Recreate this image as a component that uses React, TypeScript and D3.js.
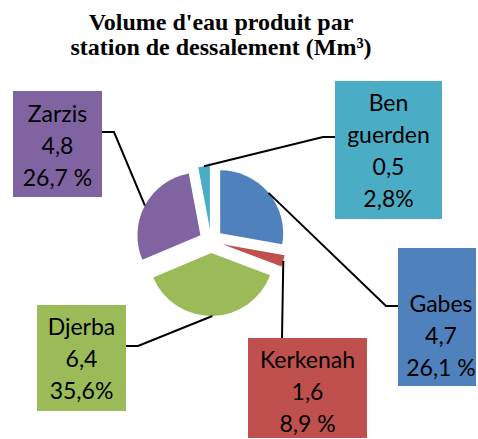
import React from "react";
import * as d3 from "d3";

const categories = ["Gabes", "Kerkenah", "Djerba", "Zarzis", "Ben guerden"];
const sliceValues = [4.7, 0.5, 6.4, 4.8, 0.5];
const labelNameLines = [["Gabes"], ["Kerkenah"], ["Djerba"], ["Zarzis"], ["Ben", "guerden"]];
const labelValues = ["4,7", "1,6", "6,4", "4,8", "0,5"];
const labelPercents = ["26,1 %", "8,9 %", "35,6%", "26,7 %", "2,8%"];
const colors = ["#4F81BD", "#C0504D", "#9BBB59", "#8064A2", "#4BACC6"];
const titleLines = ["Volume d'eau produit par", "station de dessalement (Mm³)"];

const W = 478;
const H = 439;
const cx = 211;
const cy = 241;
const R = 63;
const explode = 12;
const lineGap = 32;

const layout = [
  { box: [398, 248, 78, 138], base: 312, tx: 441, elbow: [386, 306], anchor: [398, 306] },
  { box: [248, 338, 119, 100], base: 368, tx: 307.5, elbow: [282, 338], anchor: [282, 338] },
  { box: [37, 305, 89, 106], base: 335, tx: 81.5, elbow: [138, 346], anchor: [126, 346] },
  { box: [13, 91, 89, 106], base: 122, tx: 57.5, elbow: [114, 132], anchor: [102, 132] },
  { box: [335, 81, 107, 138], base: 111, tx: 388.5, elbow: [323, 137], anchor: [335, 137] },
];

export default function App() {
  const pie = d3.pie<number>().sort(null).value((d) => d).startAngle(0).endAngle(2 * Math.PI);
  const arcs = pie(sliceValues);
  const arc = d3.arc<d3.PieArcDatum<number>>().innerRadius(0).outerRadius(R);

  return (
    <div style={{ position: "fixed", left: 0, top: 0 }}>
      <svg width={W} height={H} style={{ display: "block", background: "#fff" }}>
        {titleLines.map((t, i) => (
          <text
            key={i}
            x={221}
            y={30 + i * 25}
            textAnchor="middle"
            fontFamily="'Liberation Serif', 'Times New Roman', serif"
            fontWeight="bold"
            fontSize={24}
            fill="#000"
          >
            {t}
          </text>
        ))}
        {arcs.map((a, i) => {
          const mid = (a.startAngle + a.endAngle) / 2;
          const ox = cx + explode * Math.sin(mid);
          const oy = cy - explode * Math.cos(mid);
          const px = ox + R * Math.sin(mid);
          const py = oy - R * Math.cos(mid);
          const L = layout[i];
          const pts = [[px, py], L.elbow, L.anchor];
          return (
            <g key={categories[i]}>
              <path d={arc(a) || ""} transform={`translate(${ox},${oy})`} fill={colors[i]} />
              <path d={d3.line()(pts as [number, number][]) || ""} fill="none" stroke="#000" strokeWidth={2} />
            </g>
          );
        })}
        {categories.map((c, i) => {
          const L = layout[i];
          const lines = [...labelNameLines[i], labelValues[i], labelPercents[i]];
          return (
            <g key={c}>
              <rect x={L.box[0]} y={L.box[1]} width={L.box[2]} height={L.box[3]} fill={colors[i]} />
              {lines.map((t, j) => (
                <text
                  key={j}
                  x={L.tx}
                  y={L.base + j * lineGap}
                  textAnchor="middle"
                  fontFamily="Lato, 'Open Sans', sans-serif"
                  fontSize={23}
                  fill="#000"
                >
                  {t}
                </text>
              ))}
            </g>
          );
        })}
      </svg>
    </div>
  );
}
